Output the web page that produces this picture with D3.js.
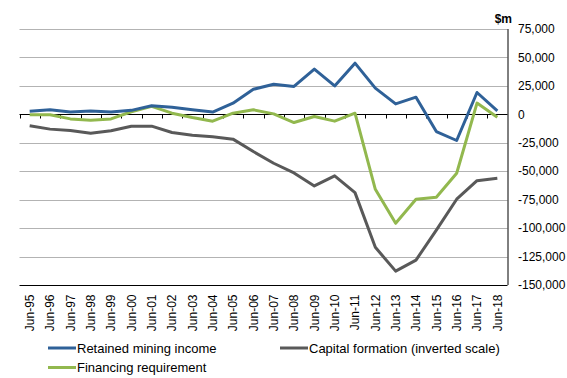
<!DOCTYPE html>
<html><head><meta charset="utf-8">
<script src="https://cdn.jsdelivr.net/npm/d3@7"></script>
<style>body{margin:0;background:#fff}svg{display:block;font-family:"Liberation Sans",Arial,sans-serif}</style>
</head><body>
<svg id="c" width="567" height="378"></svg>
<script>
const categories = ["Jun-95","Jun-96","Jun-97","Jun-98","Jun-99","Jun-00","Jun-01","Jun-02","Jun-03","Jun-04","Jun-05","Jun-06","Jun-07","Jun-08","Jun-09","Jun-10","Jun-11","Jun-12","Jun-13","Jun-14","Jun-15","Jun-16","Jun-17","Jun-18"];
const retainedIncome = [2800,4000,2000,3000,2000,3500,7500,6300,4000,2000,9800,22000,26500,24500,39800,25000,45000,23000,9200,15100,-15100,-23000,19200,3000];
const capitalFormation = [-10100,-13000,-14200,-16600,-14500,-10400,-10400,-16000,-18300,-19800,-21800,-32700,-43000,-51500,-62900,-54100,-68800,-116900,-137800,-128100,-101700,-74600,-58300,-56200];
const financingReq = [-300,-300,-4000,-5100,-4000,2300,7000,1000,-2800,-6000,1000,4000,400,-7200,-1900,-6000,1000,-65900,-95800,-74600,-72900,-51800,9900,-2500];
const yTicks = [75000,50000,25000,0,-25000,-50000,-75000,-100000,-125000,-150000];
const seriesNames = ["Retained mining income","Capital formation (inverted scale)","Financing requirement"];
const colors = ["#2f6198","#595959","#92b84e"];

const svg = d3.select("#c");
const L = 19.5, R = 507.5, T = 29, B = 285;
const x = d3.scaleBand().domain(categories).range([L, R]);
const y = d3.scaleLinear().domain([-150000, 75000]).range([B, T]);

// gridlines
svg.append("g").selectAll("line").data(yTicks.filter(d => d !== 0 && d !== -150000)).join("line")
  .attr("x1", L).attr("x2", R).attr("y1", d => Math.round(y(d)) + 0.5).attr("y2", d => Math.round(y(d)) + 0.5)
  .attr("stroke", "#b3b3b3").attr("stroke-width", 1);

// bottom axis line
svg.append("line").attr("x1", L).attr("x2", R).attr("y1", Math.round(y(-150000)) + 0.5).attr("y2", Math.round(y(-150000)) + 0.5)
  .attr("stroke", "#000").attr("stroke-width", 1);
// right axis line
svg.append("line").attr("x1", R + 0.5).attr("x2", R + 0.5).attr("y1", y(75000)).attr("y2", y(-150000))
  .attr("stroke", "#000").attr("stroke-width", 1);

// zero axis with ticks at band boundaries
const y0 = Math.round(y(0)) + 0.5;
svg.append("line").attr("x1", L).attr("x2", R).attr("y1", y0).attr("y2", y0).attr("stroke", "#000").attr("stroke-width", 1.2);
svg.append("g").selectAll("line").data(d3.range(categories.length)).join("line")
  .attr("x1", i => Math.round(L + i * x.bandwidth()) + 0.5).attr("x2", i => Math.round(L + i * x.bandwidth()) + 0.5)
  .attr("y1", y0).attr("y2", y0 + 4).attr("stroke", "#000");

// y labels (right)
svg.append("g").selectAll("text").data(yTicks).join("text")
  .attr("x", 518).attr("y", d => y(d)).attr("dy", "0.35em")
  .attr("font-size", 12).attr("fill", "#000")
  .text(d => d3.format(",")(d).replace("−", "-"));
svg.append("text").attr("x", 512).attr("y", 23).attr("text-anchor", "end")
  .attr("font-size", 12).attr("font-weight", "bold").text("$m");

// x labels rotated
svg.append("g").selectAll("text").data(categories).join("text")
  .attr("transform", d => `translate(${x(d) + x.bandwidth() / 2},294.5) rotate(-90)`)
  .attr("text-anchor", "end").attr("dy", "0.35em").attr("font-size", 12).text(d => d);

// lines
const line = d3.line().x((d, i) => x(categories[i]) + x.bandwidth() / 2).y(d => y(d));
const allSeries = [retainedIncome, capitalFormation, financingReq];
[1, 2, 0].forEach(k => {
  svg.append("path").datum(allSeries[k]).attr("d", line).attr("fill", "none")
    .attr("stroke", colors[k]).attr("stroke-width", 3).attr("stroke-linejoin", "round");
});

// legend
const leg = [
  {n: 0, x: 48, y: 348},
  {n: 1, x: 280, y: 348},
  {n: 2, x: 48, y: 367.5}
];
leg.forEach(l => {
  svg.append("line").attr("x1", l.x).attr("x2", l.x + 28).attr("y1", l.y).attr("y2", l.y)
    .attr("stroke", colors[l.n]).attr("stroke-width", 3);
  svg.append("text").attr("x", l.x + 29).attr("y", l.y).attr("dy", "0.35em")
    .attr("font-size", 13).text(seriesNames[l.n]);
});
</script>
</body></html>
